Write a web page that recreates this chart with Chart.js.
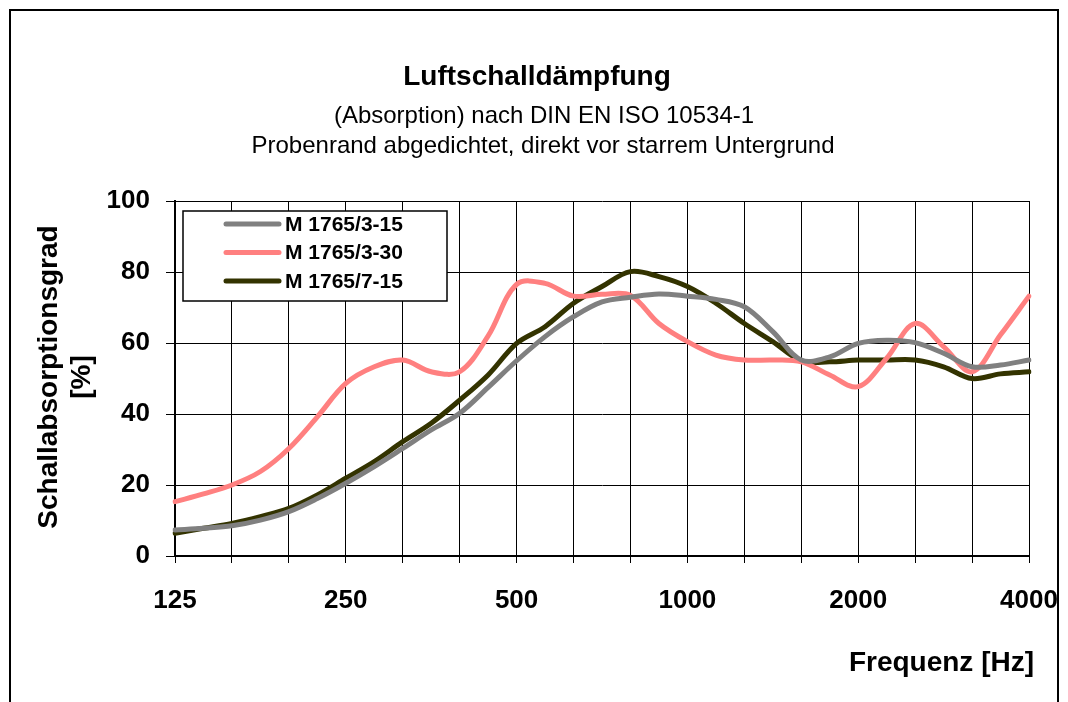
<!DOCTYPE html>
<html lang="de">
<head>
<meta charset="UTF-8">
<title>Luftschalldämpfung</title>
<style>
  body { margin: 0; background: #fff; }
  #wrap { position: absolute; left: 0; top: 0; width: 1068px; height: 702px; }
</style>
</head>
<body>
<div id="wrap"><canvas id="myChart" width="1068" height="702"></canvas></div>
<script src="https://cdn.jsdelivr.net/npm/chart.js"></script>
<script>
// third-octave bands plus the points in between
const freqs = ['125','140','160','180','200','224','250','280','315','355','400','450','500','560','630','710',
               '800','900','1000','1120','1250','1400','1600','1800','2000','2240','2500','2800','3150','3550','4000'];
const tickLabels = ['125','250','500','1000','2000','4000'];

const m3_15 = [7.3, 7.8, 8.5, 10.1, 12.5, 16.2, 20.5, 25.2, 30.3, 35.5, 40.2, 47.5, 55.0, 61.8, 67.4, 71.6,
               72.9, 73.8, 73.2, 72.3, 70.2, 63.2, 55.2, 56.1, 59.9, 60.8, 60.1, 57.1, 53.3, 53.8, 55.2];
const m3_30 = [15.3, 17.5, 20.0, 23.8, 30.3, 39.2, 48.6, 53.3, 55.2, 51.9, 51.9, 62.0, 76.5, 76.8, 73.2, 73.7,
               73.4, 65.5, 60.4, 56.6, 55.2, 55.2, 54.7, 51.0, 47.7, 55.7, 65.5, 59.0, 51.9, 62.3, 73.2];
const m7_15 = [6.4, 7.8, 9.2, 11.1, 13.4, 17.2, 21.9, 26.6, 32.2, 37.4, 43.9, 51.0, 59.9, 64.6, 71.2, 75.9,
               80.1, 78.7, 75.9, 71.2, 65.5, 60.4, 55.0, 54.7, 55.2, 55.2, 55.2, 53.3, 50.0, 51.3, 51.9];

const yTicks = [0, 20, 40, 60, 80, 100];

const FONT = "'Liberation Sans', Arial, sans-serif";

// titles, axis titles, legend and outer frame
const decoPlugin = {
    id: 'deco',
    afterDraw(chart) {
        const ctx = chart.ctx;
        ctx.save();
        ctx.strokeStyle = '#000';
        ctx.lineWidth = 2;
        ctx.strokeRect(10, 10, 1048, 800);

        ctx.fillStyle = '#000';
        ctx.textAlign = 'center';
        ctx.textBaseline = 'middle';
        ctx.font = 'bold 28px ' + FONT;
        ctx.fillText('Luftschalldämpfung', 537, 77);
        ctx.font = '24px ' + FONT;
        ctx.fillText('(Absorption) nach DIN EN ISO 10534-1', 544, 116);
        ctx.fillText('Probenrand abgedichtet, direkt vor starrem Untergrund', 543, 146);

        // y axis title
        ctx.save();
        ctx.translate(0, 377);
        ctx.rotate(-Math.PI / 2);
        ctx.font = 'bold 28px ' + FONT;
        ctx.textBaseline = 'alphabetic';
        ctx.fillText('Schallabsorptionsgrad', 0, 57);
        ctx.fillText('[%]', 0, 90);
        ctx.restore();

        // x axis title
        ctx.font = 'bold 28px ' + FONT;
        ctx.textAlign = 'right';
        ctx.textBaseline = 'alphabetic';
        ctx.fillText('Frequenz [Hz]', 1034, 671);

        // legend
        ctx.fillStyle = '#fff';
        ctx.fillRect(183, 211, 264, 90);
        ctx.lineWidth = 1.5;
        ctx.strokeStyle = '#000';
        ctx.strokeRect(183, 211, 264, 90);
        ctx.font = 'bold 21px ' + FONT;
        ctx.textAlign = 'left';
        ctx.textBaseline = 'middle';
        chart.data.datasets.forEach((ds, i) => {
            const y = 224 + i * 28.5;
            ctx.strokeStyle = ds.borderColor;
            ctx.lineWidth = 5;
            ctx.lineCap = 'round';
            ctx.beginPath();
            ctx.moveTo(226, y);
            ctx.lineTo(279, y);
            ctx.stroke();
            ctx.fillStyle = '#000';
            ctx.fillText(ds.label, 285, y + 1);
        });
        ctx.restore();
    }
};

const ctx = document.getElementById('myChart').getContext('2d');
const myChart = new Chart(ctx, {
    type: 'line',
    data: {
        labels: freqs,
        datasets: [
            { label: 'M 1765/3-15', data: m3_15, borderColor: '#808080' },
            { label: 'M 1765/3-30', data: m3_30, borderColor: '#FF8080' },
            { label: 'M 1765/7-15', data: m7_15, borderColor: '#333300' }
        ]
    },
    options: {
        responsive: false,
        animation: false,
        devicePixelRatio: 1,
        layout: { padding: { top: 201, right: 39, left: 0, bottom: 0 } },
        elements: {
            line: { borderWidth: 5, tension: 0.35, fill: false, borderCapStyle: 'round', borderJoinStyle: 'round' },
            point: { radius: 0 }
        },
        plugins: {
            legend: { display: false },
            title: { display: false },
            tooltip: { enabled: false }
        },
        scales: {
            x: {
                type: 'category',
                offset: false,
                afterFit(s) { s.height = 146; s.paddingLeft = 0; s.paddingRight = 0; },
                grid: {
                    offset: false,
                    color: c => (c.index % 2 ? 'rgba(0,0,0,0)' : '#000'),
                    lineWidth: 1,
                    tickLength: 7
                },
                border: { color: '#000', width: 2 },
                ticks: {
                    autoSkip: false,
                    maxRotation: 0,
                    padding: 22,
                    color: '#000',
                    font: { family: FONT, size: 26, weight: 'bold' },
                    callback: (v, i) => (tickLabels.includes(freqs[i]) ? freqs[i] : '')
                }
            },
            y: {
                min: 0,
                max: 100,
                afterFit(s) { s.width = 175; },
                afterBuildTicks(s) { s.ticks = yTicks.map(v => ({ value: v })); },
                grid: { color: '#000', lineWidth: 1, tickLength: 9 },
                border: { color: '#000', width: 2 },
                ticks: {
                    padding: 16,
                    color: '#000',
                    font: { family: FONT, size: 26, weight: 'bold' }
                }
            }
        }
    },
    plugins: [decoPlugin]
});
</script>
</body>
</html>
